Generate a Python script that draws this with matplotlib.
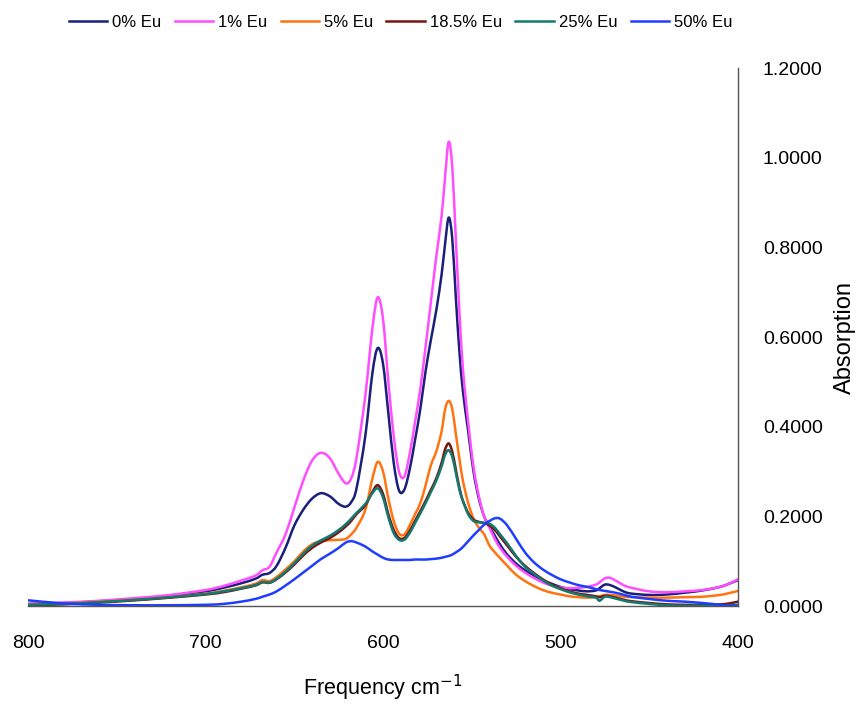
import numpy as np
import matplotlib
matplotlib.use("Agg")
import matplotlib.pyplot as plt
from matplotlib.path import Path
from matplotlib.patches import PathPatch
from matplotlib.lines import Line2D

plt.rcParams['font.family'] = ['Liberation Sans', 'DejaVu Sans']

# wavenumber grid (cm-1), shared by all spectra
freq = [800, 780, 760, 740, 720, 700, 690, 680, 672, 668, 664, 660, 655, 650, 645,
        640, 635, 630, 625, 621, 618, 615, 610, 606, 603, 600, 597, 594, 591, 588,
        585, 582, 579, 576, 573, 570, 567, 565, 563, 561, 559, 557, 555, 552, 549,
        546, 543, 540, 537, 534, 530, 525, 520, 515, 510, 505, 500, 495, 490, 485,
        480, 478, 475, 472, 468, 464, 460, 450, 440, 430, 420, 410, 405, 400]

eu0 = [0.005, 0.007, 0.011, 0.016, 0.023, 0.033, 0.041, 0.051, 0.061, 0.070, 0.074, 0.090, 0.130, 0.180, 0.215,
       0.240, 0.252, 0.245, 0.228, 0.222, 0.232, 0.262, 0.380, 0.520, 0.576, 0.540, 0.430, 0.320, 0.258, 0.260,
       0.305, 0.370, 0.440, 0.525, 0.595, 0.660, 0.740, 0.810, 0.867, 0.820, 0.690, 0.570, 0.480, 0.390, 0.300,
       0.240, 0.200, 0.178, 0.157, 0.137, 0.115, 0.095, 0.080, 0.068, 0.058, 0.050, 0.043, 0.038, 0.035, 0.033,
       0.035, 0.040, 0.048, 0.047, 0.040, 0.032, 0.028, 0.025, 0.026, 0.030, 0.035, 0.043, 0.050, 0.058]

eu1 = [0.005, 0.008, 0.012, 0.018, 0.025, 0.036, 0.045, 0.057, 0.068, 0.080, 0.088, 0.120, 0.160, 0.220, 0.280,
       0.325, 0.342, 0.330, 0.295, 0.274, 0.285, 0.330, 0.470, 0.620, 0.689, 0.640, 0.500, 0.380, 0.300, 0.289,
       0.340, 0.410, 0.485, 0.580, 0.680, 0.780, 0.870, 0.960, 1.036, 0.980, 0.820, 0.660, 0.530, 0.410, 0.310,
       0.245, 0.200, 0.175, 0.150, 0.130, 0.110, 0.090, 0.075, 0.063, 0.053, 0.046, 0.042, 0.040, 0.041, 0.043,
       0.048, 0.053, 0.062, 0.063, 0.055, 0.046, 0.041, 0.033, 0.031, 0.033, 0.036, 0.043, 0.050, 0.060]

eu5 = [0.003, 0.006, 0.010, 0.014, 0.020, 0.028, 0.034, 0.042, 0.050, 0.058, 0.056, 0.065, 0.082, 0.100, 0.122,
       0.138, 0.145, 0.147, 0.148, 0.150, 0.160, 0.175, 0.215, 0.285, 0.322, 0.300, 0.240, 0.190, 0.162, 0.160,
       0.180, 0.205, 0.230, 0.270, 0.315, 0.345, 0.390, 0.440, 0.458, 0.440, 0.385, 0.330, 0.280, 0.230, 0.195,
       0.175, 0.160, 0.135, 0.120, 0.107, 0.090, 0.070, 0.056, 0.045, 0.036, 0.030, 0.026, 0.022, 0.020, 0.019,
       0.020, 0.022, 0.025, 0.025, 0.023, 0.021, 0.020, 0.019, 0.019, 0.020, 0.021, 0.025, 0.029, 0.034]

eu18 = [0.002, 0.004, 0.008, 0.013, 0.019, 0.026, 0.031, 0.039, 0.046, 0.053, 0.052, 0.060, 0.075, 0.093, 0.113,
        0.130, 0.142, 0.152, 0.165, 0.178, 0.190, 0.205, 0.225, 0.255, 0.270, 0.250, 0.205, 0.170, 0.152, 0.152,
        0.168, 0.190, 0.212, 0.235, 0.260, 0.285, 0.320, 0.350, 0.363, 0.345, 0.305, 0.265, 0.235, 0.208, 0.193,
        0.188, 0.185, 0.180, 0.170, 0.155, 0.135, 0.110, 0.090, 0.074, 0.060, 0.048, 0.040, 0.033, 0.028, 0.025,
        0.022, 0.020, 0.023, 0.022, 0.018, 0.014, 0.011, 0.007, 0.004, 0.003, 0.003, 0.004, 0.006, 0.010]

eu25 = [0.003, 0.005, 0.009, 0.014, 0.020, 0.027, 0.033, 0.040, 0.047, 0.054, 0.053, 0.061, 0.077, 0.096, 0.117,
        0.135, 0.147, 0.157, 0.170, 0.183, 0.195, 0.208, 0.228, 0.252, 0.263, 0.242, 0.198, 0.163, 0.148, 0.148,
        0.163, 0.185, 0.207, 0.230, 0.255, 0.280, 0.312, 0.338, 0.348, 0.333, 0.298, 0.260, 0.235, 0.205, 0.190,
        0.187, 0.186, 0.184, 0.175, 0.160, 0.140, 0.112, 0.088, 0.072, 0.058, 0.046, 0.038, 0.031, 0.026, 0.022,
        0.019, 0.012, 0.021, 0.020, 0.016, 0.012, 0.009, 0.005, 0.002, 0.001, 0.001, 0.002, 0.002, 0.003]

eu50 = [0.013, 0.006, 0.003, 0.002, 0.002, 0.003, 0.005, 0.010, 0.016, 0.021, 0.026, 0.033, 0.046, 0.060, 0.075,
        0.090, 0.105, 0.117, 0.130, 0.142, 0.145, 0.142, 0.133, 0.122, 0.115, 0.108, 0.104, 0.103, 0.103, 0.103,
        0.103, 0.104, 0.104, 0.104, 0.105, 0.106, 0.108, 0.110, 0.112, 0.115, 0.120, 0.125, 0.132, 0.145, 0.158,
        0.170, 0.182, 0.190, 0.196, 0.195, 0.180, 0.150, 0.120, 0.098, 0.082, 0.070, 0.060, 0.053, 0.047, 0.043,
        0.038, 0.036, 0.034, 0.032, 0.029, 0.025, 0.021, 0.016, 0.012, 0.010, 0.007, 0.003, 0.001, 0.001]

labels = ['0% Eu', '1% Eu', '5% Eu', '18.5% Eu', '25% Eu', '50% Eu']
colors = ['#1a1f7a', '#ff4dff', '#ff7411', '#7a1410', '#137a70', '#1f3dff']
series = [eu0, eu1, eu5, eu18, eu25, eu50]


def smooth_path(x, y):
    # smoothed line through the points (cubic bezier, catmull-rom style tangents)
    p = np.column_stack([x, y]).astype(float)
    n = len(p)
    verts = [p[0]]
    codes = [Path.MOVETO]
    for i in range(n - 1):
        p0 = p[i - 1] if i > 0 else p[i]
        p3 = p[i + 2] if i + 2 < n else p[i + 1]
        c1 = p[i] + (p[i + 1] - p0) / 6.0
        c2 = p[i + 1] - (p3 - p[i]) / 6.0
        verts += [c1, c2, p[i + 1]]
        codes += [Path.CURVE4] * 3
    return Path(verts, codes)


fig = plt.figure(figsize=(8.56, 7.04), dpi=100)
ax = fig.add_axes([0.033, 0.139, 0.829, 0.764])

handles = []
for ys, lab, c in zip(series, labels, colors):
    ax.add_patch(PathPatch(smooth_path(freq, ys), facecolor='none', edgecolor=c,
                           lw=1.8, capstyle='round', joinstyle='round'))
    handles.append(Line2D([], [], color=c, lw=1.8, label=lab))

ax.set_xlim(800, 400)
ax.set_ylim(0, 1.2)
ax.set_xticks([800, 700, 600, 500, 400])
ax.set_yticks(np.arange(0, 1.21, 0.2))
ax.yaxis.set_major_formatter(matplotlib.ticker.FormatStrFormatter('%.4f'))
ax.yaxis.tick_right()
ax.yaxis.set_label_position('right')
ax.tick_params(axis='both', length=0, labelsize=14, colors='black')
ax.tick_params(axis='x', pad=21)
ax.tick_params(axis='y', pad=18)

for s in ['top', 'left']:
    ax.spines[s].set_visible(False)
for s in ['bottom', 'right']:
    ax.spines[s].set_color('#555555')
    ax.spines[s].set_linewidth(1.0)

ax.set_xlabel('Frequency cm$^{-1}$', fontsize=15.5, labelpad=15)
ax.set_ylabel('Absorption', fontsize=17, labelpad=8)

fig.legend(handles=handles, loc='upper center', bbox_to_anchor=(0.468, 1.0), ncol=6,
           frameon=False, fontsize=12, handlelength=2.3, handletextpad=0.3,
           columnspacing=0.8)

fig.savefig('out.png', dpi=100)
